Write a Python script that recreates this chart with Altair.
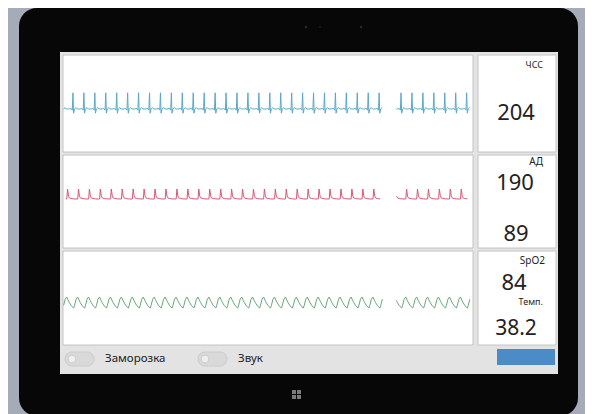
import altair as alt
import pandas as pd

FONT = "Noto Sans"

# ---------------- data ----------------
hr_label, hr_value = "ЧСС", 204
bp_label, bp_sys, bp_dia = "АД", 190, 89
spo2_label, spo2_value = "SpO2", 84
temp_label, temp_value = "Темп.", 38.2
toggle_labels = ["Заморозка", "Звук"]

sweep_seconds = 11.0            # visible time window
segment_starts = [0.0, 8.95]    # trace before / after the sweep gap (s)
segment_ends = [8.6, 10.95]

# one beat, as fractions of the beat period
ecg_phase = [0.00, 0.12, 0.20, 0.28, 0.36, 0.42, 0.48, 0.56, 0.70, 0.82, 1.00]
ecg_mv = [0.0, 0.0, 0.08, 0.0, -0.1, 1.35, -0.35, 0.0, 0.12, 0.0, 0.0]
ecg_first_beat = -0.15

bp_phase = [0.00, 0.06, 0.13, 0.22, 0.30, 0.45, 0.70, 1.00]
bp_mmhg = [89, 89, 190, 118, 100, 94, 90, 89]
bp_first_beat = -0.21

pleth_phase = [0.00, 0.08, 0.22, 0.36, 0.50, 0.60, 0.78, 1.00]
pleth_units = [0.0, 0.25, 0.8, 1.0, 0.7, 0.5, 0.2, 0.0]
pleth_first_beat = -0.30


def build_trace(phase, vals, first_beat):
    period = 60.0 / hr_value
    rows = []
    i = 0
    for seg, (s, e) in enumerate(zip(segment_starts, segment_ends)):
        for k in range(0, 60):
            b = first_beat + k * period
            for p, v in zip(phase, vals):
                t = b + p * period
                if s <= t <= e:
                    rows.append({"t": t, "v": v, "seg": seg, "i": i})
                    i += 1
    return pd.DataFrame(rows)


ecg_df = build_trace(ecg_phase, ecg_mv, ecg_first_beat)
bp_df = build_trace(bp_phase, bp_mmhg, bp_first_beat)
pleth_df = build_trace(pleth_phase, pleth_units, pleth_first_beat)

O = 8  # page margin: picture coords -> plot coords


def rect(x1, y1, x2, y2, fill, stroke=None, r=0, sw=1.0):
    kw = dict(fill=fill, cornerRadius=r)
    if stroke:
        kw["stroke"] = stroke
        kw["strokeWidth"] = sw
    else:
        kw["strokeWidth"] = 0
    return alt.Chart().mark_rect(**kw).encode(
        x=alt.value(x1 - O), x2=alt.value(x2 - O),
        y=alt.value(y1 - O), y2=alt.value(y2 - O))


def txt(x, y, s, size, color="#222222", align="center"):
    return alt.Chart().mark_text(
        align=align, baseline="middle", fontSize=size, color=color, font=FONT
    ).encode(x=alt.value(x - O), y=alt.value(y - O), text=alt.value(s))


def dot(x, y, size, fill, stroke=None):
    kw = dict(filled=True, color=fill, opacity=1)
    if stroke:
        kw["stroke"] = stroke
        kw["strokeWidth"] = 0.8
    return alt.Chart().mark_circle(**kw).encode(
        x=alt.value(x - O), y=alt.value(y - O), size=alt.value(size))


xscale = alt.Scale(domain=[0, sweep_seconds], range=[63 - O, 472 - O], nice=False)


def trace(df, color, domain, yr, sw=1.0):
    return alt.Chart(df).mark_line(color=color, strokeWidth=sw).encode(
        x=alt.X("t:Q", scale=xscale, axis=None),
        y=alt.Y("v:Q", scale=alt.Scale(domain=domain, range=[yr[0] - O, yr[1] - O],
                                       nice=False, zero=False), axis=None),
        detail="seg:N",
        order="i:Q",
    )


layers = [
    # tablet body
    rect(19, 6, 578, 414, "#070707", r=18),
    # screen
    rect(60, 50, 558, 372, "#e3e3e3"),
]
# panels
for (y1, y2) in [(53, 150), (153, 246), (249, 343)]:
    layers.append(rect(63, y1, 473, y2, "#ffffff", stroke="#c4c4c4"))
    layers.append(rect(478, y1, 556, y2, "#ffffff", stroke="#c4c4c4"))

# camera + windows logo
layers += [
    dot(306, 25, 6, "#2a2a2a"),
    dot(320, 25, 4, "#222222"),
    dot(361, 25, 6, "#2a2a2a"),
    rect(292, 388, 296, 392, "#7a7a7a"),
    rect(297, 388, 301, 392, "#7a7a7a"),
    rect(292, 393, 296, 397, "#7a7a7a"),
    rect(297, 393, 301, 397, "#7a7a7a"),
]

# waveforms
layers += [
    trace(ecg_df, "#5aa8c6", [-1, 2], (119, 83)),
    trace(bp_df, "#d45a72", [bp_dia, bp_sys], (197, 187)),
    trace(pleth_df, "#68a67b", [0, 1], (306, 295)),
]

# numeric read-outs
layers += [
    txt(543, 63, hr_label, 9, align="right"),
    txt(516, 111, str(hr_value), 22),
    txt(543, 160, bp_label, 10, align="right"),
    txt(515, 181, str(bp_sys), 22),
    txt(516, 232, str(bp_dia), 22),
    txt(545, 259, spo2_label, 10, align="right"),
    txt(514, 281, str(spo2_value), 22),
    txt(543, 300, temp_label, 9, align="right"),
    txt(516, 327, str(temp_value), 21),
]

# bottom bar: toggles, labels, button
layers += [
    rect(65, 350, 94, 364, "#d9d9d9", stroke="#cccccc", r=7),
    dot(72, 357, 60, "#efefef", stroke="#c8c8c8"),
    txt(105, 357, toggle_labels[0], 11.5, align="left"),
    rect(198, 350, 227, 364, "#d9d9d9", stroke="#cccccc", r=7),
    dot(205, 357, 60, "#efefef", stroke="#c8c8c8"),
    txt(238, 357, toggle_labels[1], 11.5, align="left"),
    rect(497, 347, 555, 363, "#4b8bc6"),
]

chart = (
    alt.layer(*layers)
    .resolve_scale(y="independent")
    .properties(width=577, height=398, padding=0, background="#a6abb9")
    .configure_view(strokeWidth=0)
)

chart.save("out.html", embed_options={"renderer": "svg", "actions": False})
